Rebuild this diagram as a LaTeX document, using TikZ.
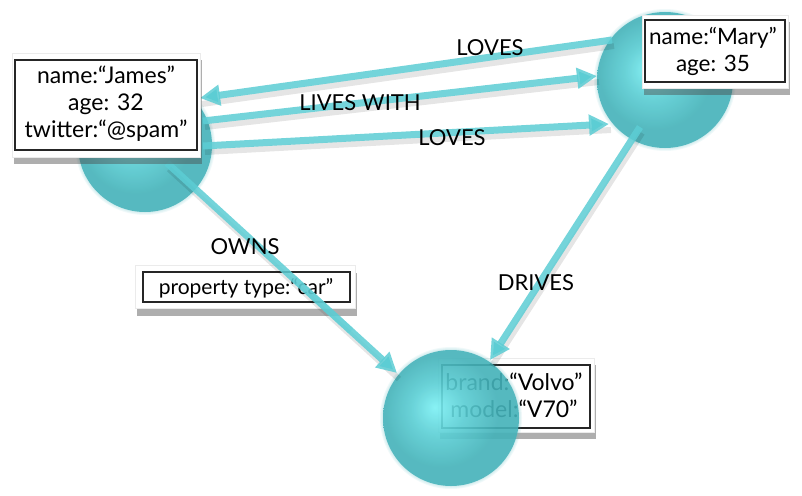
\documentclass[tikz,border=0pt]{standalone}
\usepackage{fontspec}
\setmainfont{Lato}
\usetikzlibrary{arrows.meta,shadows,fadings,calc}
\definecolor{arr}{RGB}{92,205,212}
\definecolor{sphA}{RGB}{125,242,246}
\definecolor{sphB}{RGB}{90,206,212}
\definecolor{sphC}{RGB}{68,178,185}
\pgfdeclareradialshading{sphshade}{\pgfpoint{-6bp}{4bp}}{color(0bp)=(sphA); color(10bp)=(sphB); color(21bp)=(sphC); color(25bp)=(sphC); color(50bp)=(sphC)}
\tikzset{
  sph/.style={circle, minimum size=136pt, inner sep=0pt},
  wbox/.style={fill=white, draw=black!8, line width=0.6pt, inner sep=0pt,
    drop shadow={shadow xshift=2pt, shadow yshift=-7pt, opacity=0.45, fill=black!70}},
  frame/.style={draw=black!85, line width=2pt, fill=none},
  txt/.style={font=\fontsize{23}{27}\selectfont, align=center, inner sep=0pt},
  lbl/.style={font=\fontsize{22}{24}\selectfont, inner sep=0pt},
  rel/.style={draw=arr, line width=7pt, draw opacity=0.85,
    -{Triangle[length=20pt,width=20pt]}},
  relshadow/.style={draw=black, line width=6pt, draw opacity=0.10},
}
\newcommand{\sphere}[2]{%
  \foreach \d in {1,2,3}
    \fill[sphC, opacity=0.08] (#1) circle (#2+\d);
  \shade[shading=sphshade, fill opacity=0.88] (#1) circle (#2);
}
\begin{document}
\begin{tikzpicture}[x=1pt,y=-1pt]
\useasboundingbox (0,0) rectangle (802,495);
% Volvo box (under sphere)
\node[wbox, minimum width=156pt, minimum height=74pt] (volvobox) at (516,395) {};
\draw[frame] (442,365) rectangle (590,428);
\node[txt] (volvotxt) at (514,395) {brand:“Volvo”\\model:“V70”};
% spheres
\coordinate (jamesc) at (145,145);
\coordinate (maryc) at (665,80);
\coordinate (volvoc) at (451,418);
\sphere{jamesc}{67}
\sphere{maryc}{68}
\sphere{volvoc}{68}
\node[sph] (james) at (jamesc) {};
\node[sph] (mary) at (maryc) {};
\node[sph] (volvo) at (volvoc) {};
% property box
\node[wbox, minimum width=220pt, minimum height=43pt] (propbox) at (245,287) {};
\draw[frame] (143,272) rectangle (350,302);
\node[txt, font=\fontsize{21}{24}\selectfont] (proptxt) at (246,288) {property type:“car”};
% endpoints
\coordinate (l1s) at (612,40);  \coordinate (l1e) at (200,98);
\coordinate (lws) at (203,121); \coordinate (lwe) at (597,76);
\coordinate (l2s) at (203,146); \coordinate (l2e) at (609,124);
\coordinate (ows) at (167,163); \coordinate (owe) at (397,373);
\coordinate (drs) at (640,127); \coordinate (dre) at (490,360);
% shadows of connectors
\foreach \a/\b in {l1s/l1e, lws/lwe, l2s/l2e, ows/owe, drs/dre}
  \draw[relshadow] ([xshift=2pt,yshift=-6pt]\a) -- ([xshift=2pt,yshift=-6pt]\b);
% connectors
\draw[rel] (l1s) -- (l1e);
\draw[rel] (lws) -- (lwe);
\draw[rel] (l2s) -- (l2e);
\draw[rel] (ows) -- (owe);
\draw[rel] (drs) -- (dre);
% James box
\node[wbox, minimum width=188pt, minimum height=104pt] (jamesbox) at (106,105) {};
\draw[frame] (15,60) rectangle (197,150);
\node[txt] (jamestxt) at (106,104) {name:“James”\\age: 32\\twitter:“@spam”};
% Mary box
\node[wbox, minimum width=146pt, minimum height=73pt] (marybox) at (715,51.5) {};
\draw[frame] (645,20) rectangle (785,82);
\node[txt, font=\fontsize{22.5}{27}\selectfont] (marytxt) at (713,51) {name:“Mary”\\age: 35};
% relation labels
\node[lbl] (t1) at (490,48) {LOVES};
\node[lbl] (t2) at (360,103) {LIVES WITH};
\node[lbl] (t3) at (452,138) {LOVES};
\node[lbl] (t4) at (245,247) {OWNS};
\node[lbl] (t5) at (536,283) {DRIVES};
% OWNS line shows faintly over the property box
\draw[draw=arr, line width=7pt, draw opacity=0.35] ($(ows)!0.55!(owe)$) -- ($(ows)!0.8!(owe)$);
\end{tikzpicture}
\end{document}
